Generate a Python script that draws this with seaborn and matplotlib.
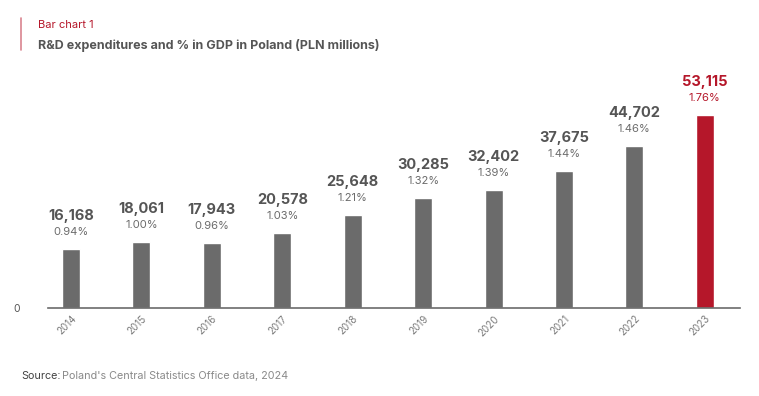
import pandas as pd
import seaborn as sns
import matplotlib.pyplot as plt

years = ['2014', '2015', '2016', '2017', '2018', '2019', '2020', '2021', '2022', '2023']
spend = [16168, 18061, 17943, 20578, 25648, 30285, 32402, 37675, 44702, 53115]
gdp_share = [0.94, 1.00, 0.96, 1.03, 1.21, 1.32, 1.39, 1.44, 1.46, 1.76]

gray = '#6b6b6b'
red = '#b5172a'
dark = '#555555'

df = pd.DataFrame({'year': years, 'spend': spend, 'pct': gdp_share})
colors = [gray] * (len(years) - 1) + [red]

sns.set_style('white')
plt.rcParams['font.family'] = ['Inter', 'DejaVu Sans']

fig = plt.figure(figsize=(7.59, 3.96), dpi=100)
ax = fig.add_axes([48 / 759, 1 - 308 / 396, (740 - 48) / 759, (308 - 60) / 396])

sns.barplot(data=df, x='year', y='spend', hue='year', palette=colors,
            legend=False, width=0.256, saturation=1, ax=ax)

ax.set_xlim(-0.327, 9.5)
ax.set_ylim(0, 68250)

# labels above bars
for i, (v, p) in enumerate(zip(spend, gdp_share)):
    c1 = red if i == len(years) - 1 else dark
    c2 = red if i == len(years) - 1 else gray
    ax.annotate(f'{v:,}', (i, v), xytext=(0, 33), textcoords='offset pixels',
                ha='center', va='center', fontsize=10.5, fontweight='bold', color=c1)
    ax.annotate(f'{p:.2f}%', (i, v), xytext=(0, 17), textcoords='offset pixels',
                ha='center', va='center', fontsize=8, color=c2)

for s in ['top', 'right', 'left']:
    ax.spines[s].set_visible(False)
ax.spines['bottom'].set_color(gray)
ax.spines['bottom'].set_linewidth(1.2)

ax.set_yticks([0])
ax.set_yticklabels(['0'], fontsize=7.5, color=dark)
ax.tick_params(axis='y', length=0, pad=20)
ax.tick_params(axis='x', length=0, pad=4)
plt.setp(ax.get_xticklabels(), rotation=45, fontsize=7, color='#7a7a7a',
         ha='right', rotation_mode='anchor')
ax.set_xlabel('')
ax.set_ylabel('')

# header
fig.add_artist(plt.Line2D([21 / 759, 21 / 759], [1 - 18 / 396, 1 - 50 / 396],
                          color='#d9848f', lw=1.2))
fig.text(38 / 759, 1 - 25 / 396, 'Bar chart 1', fontsize=8, color=red, va='center')
fig.text(38 / 759, 1 - 46 / 396, 'R&D expenditures and % in GDP in Poland (PLN millions)',
         fontsize=9, fontweight='bold', color=dark, va='center')

fig.text(21 / 759, 1 - 376 / 396, 'Source:', fontsize=7.8, color='#444444', va='center')
fig.text(62 / 759, 1 - 376 / 396, "Poland's Central Statistics Office data, 2024",
         fontsize=7.8, color='#8a8a8a', va='center')

fig.savefig('out.png', dpi=100)
